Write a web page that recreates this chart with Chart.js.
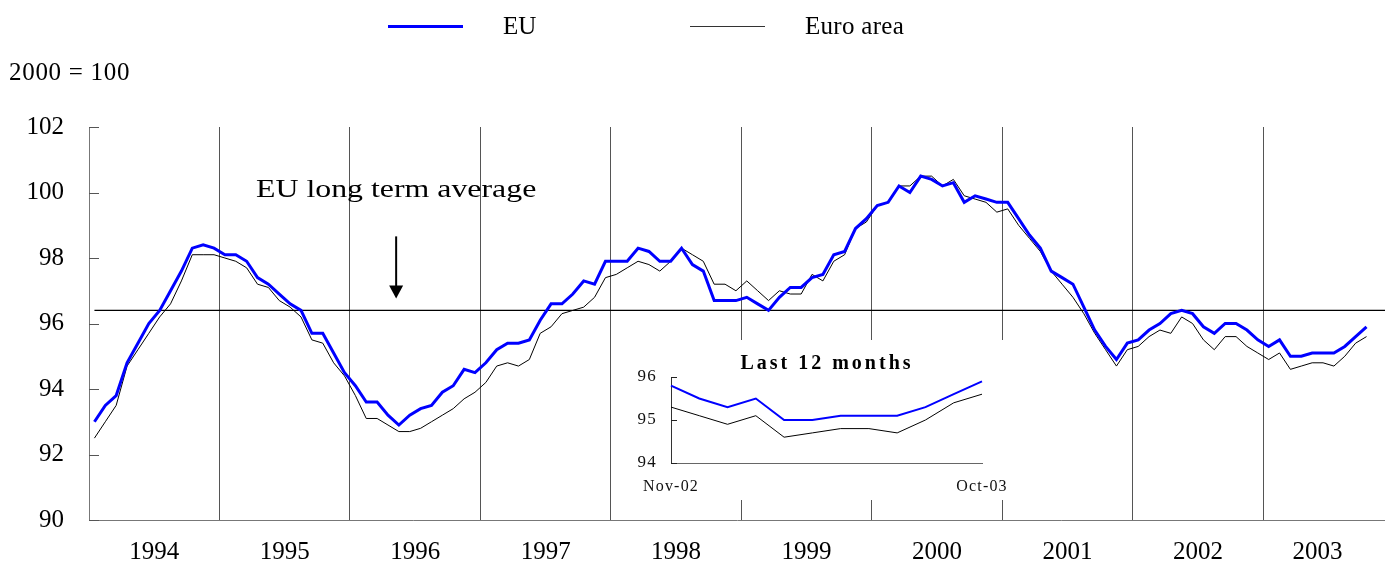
<!DOCTYPE html>
<html>
<head>
<meta charset="utf-8">
<script src="https://cdn.jsdelivr.net/npm/chart.js"></script>
<style>
html, body { margin: 0; padding: 0; background: #fff; }
#wrap { position: relative; width: 1385px; height: 569px; overflow: hidden;
        font-family: "Liberation Serif", "Times New Roman", serif; color: #000; }
#main { position: absolute; left: 0; top: 0; }
.txt { position: absolute; white-space: nowrap; font-size: 25px; line-height: 1; }
.lgline { position: absolute; }
#inset { position: absolute; left: 612px; top: 340px; width: 398px; height: 160px; background: #fff; }
#insetCanvas { position: absolute; left: 0; top: 0; }
#insetTitle { position: absolute; left: 0; top: 12px; width: 430px; text-align: center;
              font-weight: bold; font-size: 20px; letter-spacing: 3px; line-height: 1; }
</style>
</head>
<body>
<div id="wrap">
  <canvas id="main" width="1385" height="569"></canvas>
  <div class="lgline" style="left:388px;top:25px;width:75px;height:3px;background:#0000ff;"></div>
  <div class="txt" style="left:503px;top:13px;">EU</div>
  <div class="lgline" style="left:690px;top:26px;width:75px;height:1px;background:#333;"></div>
  <div class="txt" style="left:805px;top:13px;letter-spacing:0.3px;">Euro area</div>
  <div class="txt" style="left:9px;top:59px;letter-spacing:0.7px;">2000 = 100</div>
  <div id="inset">
    <canvas id="insetCanvas" width="398" height="160"></canvas>
    <div id="insetTitle">Last 12 months</div>
  </div>
</div>
<script>
// ---------------- data ----------------
const YEARS = ['1994','1995','1996','1997','1998','1999','2000','2001','2002','2003'];

// Monthly index, Jan 1994 .. Oct 2003 (2000 = 100)
const EU = [
  93.0, 93.5, 93.8, 94.8, 95.4, 96.0, 96.4, 97.0, 97.6, 98.3, 98.4, 98.3,
  98.1, 98.1, 97.9, 97.4, 97.2, 96.9, 96.6, 96.4, 95.7, 95.7, 95.1, 94.5,
  94.1, 93.6, 93.6, 93.2, 92.9, 93.2, 93.4, 93.5, 93.9, 94.1, 94.6, 94.5,
  94.8, 95.2, 95.4, 95.4, 95.5, 96.1, 96.6, 96.6, 96.9, 97.3, 97.2, 97.9,
  97.9, 97.9, 98.3, 98.2, 97.9, 97.9, 98.3, 97.8, 97.6, 96.7, 96.7, 96.7,
  96.8, 96.6, 96.4, 96.8, 97.1, 97.1, 97.4, 97.5, 98.1, 98.2, 98.9, 99.2,
  99.6, 99.7, 100.2, 100.0, 100.5, 100.4, 100.2, 100.3, 99.7, 99.9, 99.8, 99.7,
  99.7, 99.2, 98.7, 98.3, 97.6, 97.4, 97.2, 96.5, 95.8, 95.3, 94.9, 95.4,
  95.5, 95.8, 96.0, 96.3, 96.4, 96.3, 95.9, 95.7, 96.0, 96.0, 95.8, 95.5,
  95.3, 95.5, 95.0, 95.0, 95.1, 95.1, 95.1, 95.3, 95.6, 95.9
];
const EURO_AREA = [
  92.5, 93.0, 93.5, 94.7, 95.2, 95.7, 96.2, 96.6, 97.3, 98.1, 98.1, 98.1,
  98.0, 97.9, 97.7, 97.2, 97.1, 96.7, 96.5, 96.2, 95.5, 95.4, 94.8, 94.4,
  93.8, 93.1, 93.1, 92.9, 92.7, 92.7, 92.8, 93.0, 93.2, 93.4, 93.7, 93.9,
  94.2, 94.7, 94.8, 94.7, 94.9, 95.7, 95.9, 96.3, 96.4, 96.5, 96.8, 97.4,
  97.5, 97.7, 97.9, 97.8, 97.6, 97.9, 98.3, 98.1, 97.9, 97.2, 97.2, 97.0,
  97.3, 97.0, 96.7, 97.0, 96.9, 96.9, 97.5, 97.3, 97.9, 98.1, 98.9, 99.1,
  99.6, 99.7, 100.2, 100.2, 100.5, 100.5, 100.2, 100.4, 99.9, 99.8, 99.7, 99.4,
  99.5, 99.0, 98.6, 98.2, 97.6, 97.2, 96.8, 96.3, 95.7, 95.2, 94.7, 95.2,
  95.3, 95.6, 95.8, 95.7, 96.2, 96.0, 95.5, 95.2, 95.6, 95.6, 95.3, 95.1,
  94.9, 95.1, 94.6, 94.7, 94.8, 94.8, 94.7, 95.0, 95.4, 95.6
];
const EU_LONG_TERM_AVERAGE = 96.4;
const Y_MIN = 90, Y_MAX = 102, Y_STEP = 2;

// Inset: last 12 months
const INSET_MONTHS = ['Nov-02','Dec-02','Jan-03','Feb-03','Mar-03','Apr-03',
                      'May-03','Jun-03','Jul-03','Aug-03','Sep-03','Oct-03'];
const INSET_EU   = [95.8, 95.5, 95.3, 95.5, 95.0, 95.0, 95.1, 95.1, 95.1, 95.3, 95.6, 95.9];
const INSET_EURO = [95.3, 95.1, 94.9, 95.1, 94.6, 94.7, 94.8, 94.8, 94.7, 95.0, 95.4, 95.6];
const INSET_Y_MIN = 94, INSET_Y_MAX = 96;

// ---------------- helpers ----------------
const SERIF = '"Liberation Serif", "Times New Roman", serif';
const X_MIN = -0.5, X_MAX = 118.7;   // month-index axis range (plot extends to the right edge)
const toXY = arr => arr.map((v, i) => ({ x: i, y: v }));

// Year boundaries and label centres, in month-index units
const nMonths = EU.length;
const boundaries = [];
const centres = [];
YEARS.forEach((y, k) => {
  const first = k * 12;
  const last = Math.min(first + 11, nMonths - 1);
  centres.push({ value: (first + last) / 2, label: y });
  if (k > 0) boundaries.push(first - 0.5);
});
const isBoundary = v => boundaries.some(b => Math.abs(b - v) < 1e-6);

const innerTicks = {
  id: 'innerTicks',
  afterDraw(chart, args, opts) {
    const { ctx, chartArea, scales } = chart;
    const ys = scales.y;
    ctx.save();
    ctx.strokeStyle = opts.color || '#444';
    ctx.lineWidth = 1;
    ys.ticks.forEach(t => {
      const py = Math.round(ys.getPixelForValue(t.value)) + 0.5;
      ctx.beginPath();
      ctx.moveTo(chartArea.left, py);
      ctx.lineTo(chartArea.left + (opts.length || 8), py);
      ctx.stroke();
    });
    ctx.restore();
  }
};

const annotation = {
  id: 'avgAnnotation',
  afterDatasetsDraw(chart, args, o) {
    if (!o || !o.text) return;
    const { ctx, scales } = chart;
    const px = scales.x.getPixelForValue(o.x);
    const ty = scales.y.getPixelForValue(o.textY);
    const top = scales.y.getPixelForValue(o.arrowTop);
    const tip = scales.y.getPixelForValue(o.arrowTip);
    ctx.save();
    ctx.fillStyle = '#000';
    ctx.font = '26px ' + SERIF;
    ctx.textAlign = 'center';
    ctx.textBaseline = 'alphabetic';
    ctx.translate(px, ty);
    ctx.scale(1.225, 1);
    ctx.fillText(o.text, 0, 0);
    ctx.restore();
    ctx.save();
    ctx.strokeStyle = '#000';
    ctx.fillStyle = '#000';
    ctx.lineWidth = 2;
    ctx.beginPath();
    ctx.moveTo(px, top);
    ctx.lineTo(px, tip - 12);
    ctx.stroke();
    ctx.beginPath();
    ctx.moveTo(px - 7, tip - 13);
    ctx.lineTo(px + 7, tip - 13);
    ctx.lineTo(px, tip);
    ctx.closePath();
    ctx.fill();
    ctx.restore();
  }
};

// ---------------- main chart ----------------
new Chart(document.getElementById('main'), {
  type: 'line',
  data: {
    datasets: [
      { label: 'EU', data: toXY(EU), borderColor: '#0000ff', borderWidth: 3,
        pointRadius: 0, tension: 0, order: 0 },
      { label: 'Euro area', data: toXY(EURO_AREA), borderColor: '#000', borderWidth: 1,
        pointRadius: 0, tension: 0, order: 1 },
      { label: 'EU long term average', data: [{ x: 0, y: EU_LONG_TERM_AVERAGE }, { x: X_MAX, y: EU_LONG_TERM_AVERAGE }],
        borderColor: '#000', borderWidth: 1.3, pointRadius: 0, order: 2 }
    ]
  },
  options: {
    responsive: false,
    animation: false,
    events: [],
    layout: { padding: { top: 127, left: 0, right: 0, bottom: 0 } },
    plugins: {
      legend: { display: false },
      tooltip: { enabled: false },
      innerTicks: { length: 10, color: '#555' },
      avgAnnotation: { text: 'EU long term average', x: 27.75, textY: 99.85, arrowTop: 98.66, arrowTip: 96.76 }
    },
    scales: {
      x: {
        type: 'linear',
        min: X_MIN,
        max: X_MAX,
        afterBuildTicks: s => {
          s.ticks = boundaries.map(v => ({ value: v }))
            .concat(centres.map(c => ({ value: c.value })))
            .sort((a, b) => a.value - b.value);
        },
        ticks: {
          autoSkip: false,
          maxRotation: 0,
          padding: 17,
          color: '#000',
          font: { family: SERIF, size: 25 },
          callback: v => {
            const c = centres.find(c => Math.abs(c.value - v) < 1e-6);
            return c ? c.label : '';
          }
        },
        grid: {
          drawTicks: false,
          color: ctx => (ctx.tick && isBoundary(ctx.tick.value)) ? '#555' : 'rgba(0,0,0,0)',
          lineWidth: 1
        },
        border: { display: true, color: '#777', width: 1 },
        afterFit: s => { s.height = 49; }
      },
      y: {
        min: Y_MIN,
        max: Y_MAX,
        ticks: { stepSize: Y_STEP, padding: 25, color: '#000', font: { family: SERIF, size: 25 } },
        grid: { display: false, drawTicks: false },
        border: { display: true, color: '#777', width: 1 },
        afterFit: s => { s.width = 89; }
      }
    }
  },
  plugins: [innerTicks, annotation]
});

// ---------------- inset chart ----------------
const spacing = {
  id: 'letterSpacing',
  beforeLayout(chart) { chart.ctx.letterSpacing = '1.2px'; },
  beforeDraw(chart) { chart.ctx.letterSpacing = '1.2px'; }
};

new Chart(document.getElementById('insetCanvas'), {
  type: 'line',
  data: {
    labels: INSET_MONTHS,
    datasets: [
      { label: 'EU', data: INSET_EU, borderColor: '#0000ff', borderWidth: 2, pointRadius: 0, tension: 0 },
      { label: 'Euro area', data: INSET_EURO, borderColor: '#000', borderWidth: 1, pointRadius: 0, tension: 0 }
    ]
  },
  options: {
    responsive: false,
    animation: false,
    events: [],
    layout: { padding: { top: 37, left: 0, right: 28, bottom: 0 } },
    plugins: {
      legend: { display: false },
      tooltip: { enabled: false },
      innerTicks: { length: 6, color: '#222' }
    },
    scales: {
      x: {
        offset: false,
        grid: { display: false },
        border: { display: true, color: '#666', width: 1 },
        ticks: {
          autoSkip: false, maxRotation: 0, padding: 6, color: '#111',
          font: { family: SERIF, size: 16 },
          callback: (v, i, t) => (i === 0 || i === t.length - 1) ? INSET_MONTHS[i] : ''
        },
        afterFit: s => { s.height = 37; s.paddingLeft = 0; s.paddingRight = 0; }
      },
      y: {
        min: INSET_Y_MIN,
        max: INSET_Y_MAX,
        ticks: { stepSize: 1, padding: 6, color: '#111', font: { family: SERIF, size: 17 } },
        grid: { display: false },
        border: { display: true, color: '#333', width: 1 },
        afterFit: s => { s.width = 59; s.paddingTop = 0; s.paddingBottom = 0; }
      }
    }
  },
  plugins: [innerTicks, spacing]
});
</script>
</body>
</html>
